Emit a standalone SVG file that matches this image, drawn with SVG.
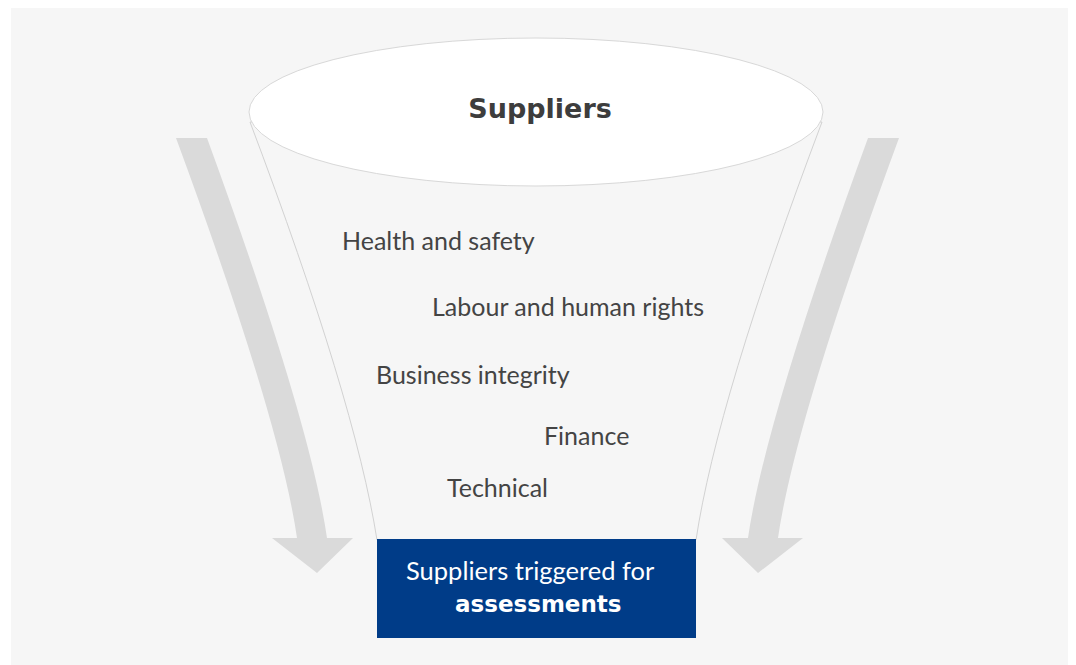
<svg xmlns="http://www.w3.org/2000/svg" width="1076" height="665" viewBox="0 0 1076 665">
<style>
.lbl{font-family:Lato,"Liberation Sans",sans-serif;font-size:25px;fill:#444}
.bold{font-family:"DejaVu Sans","Liberation Sans",sans-serif;font-weight:bold}
.arrow{fill:#dadada}
</style>
<rect x="0" y="0" width="1076" height="665" fill="#ffffff"/>
<rect x="11" y="8" width="1057" height="657" fill="#f6f6f6"/>
<g id="connectors">
<path class="arrow" d="M176,138 L207,138 Q310,420 327,538 L353,538 L317,573 L272,538 L297,538 Q280,420 176,138 Z"/>
<path class="arrow" d="M899,138 L868,138 Q765,420 748,538 L722,538 L758,573 L803,538 L778,538 Q795,420 899,138 Z"/>
</g>
<g id="funnel">
<path d="M250,122 Q355,400 377,540 L696,540 Q717,400 822,122 Z" fill="#f6f6f6" stroke="#d2d2d2" stroke-width="1"/>
</g>
<g id="suppliers">
<ellipse cx="536" cy="112" rx="287" ry="74" fill="#ffffff" stroke="#d8d8d8" stroke-width="1"/>
<text class="bold" x="540" y="118" text-anchor="middle" style="font-size:27px;fill:#3d3d3d">Suppliers</text>
</g>
<g id="criteria">
<text class="lbl" x="342" y="250">Health and safety</text>
<text class="lbl" x="432" y="316">Labour and human rights</text>
<text class="lbl" x="376" y="384">Business integrity</text>
<text class="lbl" x="544" y="445">Finance</text>
<text class="lbl" x="447" y="497">Technical</text>
</g>
<g id="assessments">
<rect x="377" y="539" width="319" height="99" fill="#003c88"/>
<text x="406" y="580" style="font-family:Lato,'Liberation Sans',sans-serif;font-size:25.5px;fill:#ffffff">Suppliers triggered for</text>
<text class="bold" x="455" y="612" style="font-size:23px;fill:#ffffff">assessments</text>
</g>
</svg>
